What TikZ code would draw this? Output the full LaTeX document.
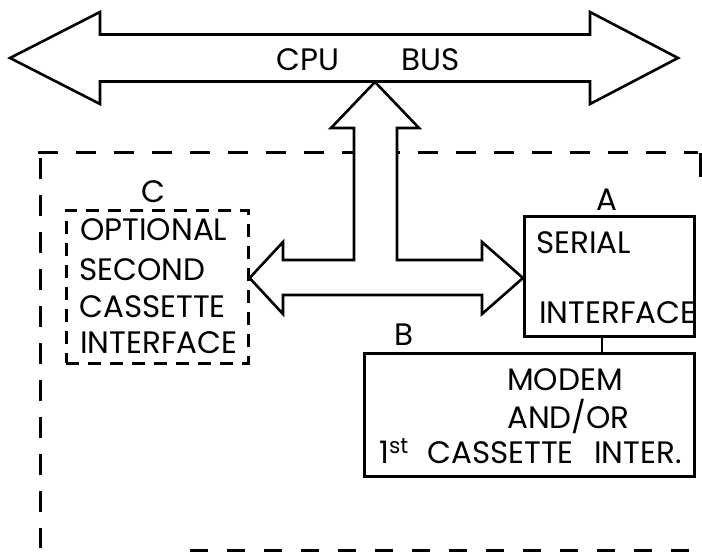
\documentclass[tikz,border=0pt]{standalone}
\usepackage{fontspec}
\setmainfont{Poppins}
\begin{document}
\begin{tikzpicture}[x=1pt,y=-1pt,
  outline/.style={draw=black,line width=2.6pt,line join=miter},
  solidbox/.style={draw=black,line width=2.6pt,fill=none},
  dashbox/.style={draw=black,line width=2.6pt,dash pattern=on 13pt off 9pt},
  frame/.style={draw=black,line width=3pt},
  txt/.style={font=\fontsize{31}{34}\selectfont,inner sep=0pt,text=black},
  lbl/.style={txt,anchor=base},
  line/.style={txt,anchor=base west}]
\useasboundingbox (0,0) rectangle (702,554);
\fill[white] (0,0) rectangle (702,554);

% system boundary (dashed frame)
\draw[frame,dash pattern=on 20pt off 18pt] (38,152) -- (698,152);
\draw[frame,dash pattern=on 21pt off 16pt] (40,158) -- (40,548);
\draw[frame,dash pattern=on 18pt off 19pt] (190,550) -- (702,550);
\draw[frame] (700,153) -- (700,177);

% CPU bus: double-headed arrow
\draw[outline,fill=white] (10,58) -- (100,12) -- (100,34.5) -- (590,34.5) -- (590,12)
  -- (678,58) -- (590,104) -- (590,81.5) -- (100,81.5) -- (100,104) -- cycle;
\node[line] (cpu) at (276,70) {CPU};
\node[line] (bus) at (401,70) {BUS};

% interface boxes
\node[solidbox,minimum width=170pt,minimum height=120pt,anchor=north west,inner sep=0pt] (A) at (523,215) {};
\node[solidbox,minimum width=330pt,minimum height=123pt,anchor=north west,inner sep=0pt] (B) at (363,352) {};
\node[dashbox,minimum width=182pt,minimum height=153pt,anchor=north west,inner sep=0pt] (C) at (65,209) {};

% T-shaped branch from the bus to boxes A and C
\draw[outline,fill=white] (375,82) -- (419,128) -- (397,128) -- (397,260) -- (482,260)
  -- (482,242) -- (A.west |- 0,278) -- (482,314) -- (482,295) -- (283,295) -- (283,314)
  -- (C.east |- 0,278) -- (283,242) -- (283,260) -- (354,260) -- (354,128) -- (331,128) -- cycle;

% link between A and B
\coordinate (ab) at (602,0);
\draw[black,line width=1.6pt] (ab |- A.south) -- (ab |- B.north);

% box labels
\node[lbl] (labC) at (153,202) {C};
\node[lbl] (labA) at (607,210) {A};
\node[lbl] (labB) at (404,345) {B};

% box C text
\node[line] (c1) at (80,240) {OPTIONAL};
\node[line] (c2) at (79,280) {SECOND};
\node[line] (c3) at (79,317) {CASSETTE};
\node[line] (c4) at (80,353) {INTERFACE};

% box A text
\node[line] (a1) at (536,253) {SERIAL};
\node[line] (a2) at (539,323) {INTERFACE};

% box B text
\node[line] (b1) at (507,390) {MODEM};
\node[line] (b2) at (507,428) {AND/OR};
\node[line] (b3) at (379,463) {1\textsuperscript{st}};
\node[line] (b4) at (427,463) {CASSETTE};
\node[line] (b5) at (594,463) {INTER.};
\end{tikzpicture}
\end{document}
